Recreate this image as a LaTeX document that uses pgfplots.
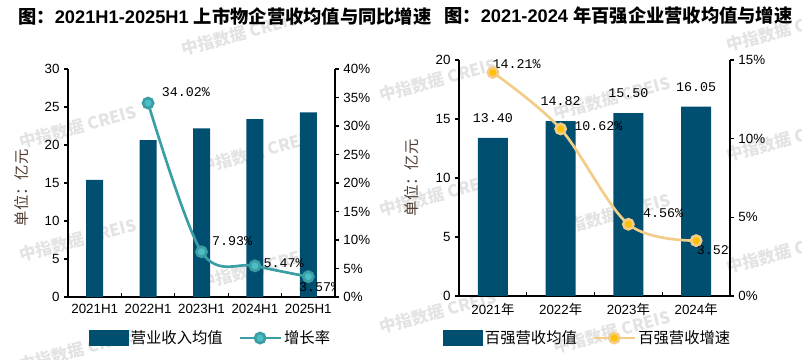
\documentclass[border=0pt]{standalone}
\usepackage{pgfplots}
\pgfplotsset{compat=1.18}
\usepackage{fontspec}
\setmainfont{Liberation Sans}
\newfontfamily\cjk{Noto Sans CJK SC}
\newfontfamily\mono{Liberation Mono}
\definecolor{barc}{RGB}{0,78,112}
\definecolor{tealline}{RGB}{58,158,164}
\definecolor{tealmark}{RGB}{78,190,198}
\definecolor{orline}{RGB}{243,205,135}
\definecolor{ormark}{RGB}{255,192,0}
\definecolor{ylab}{RGB}{80,62,50}
\pgfplotsset{
 linelegend/.style={legend image code/.code={%
   \draw[mark repeat=2,mark phase=2,##1] plot coordinates {(0pt,0pt)(15pt,0pt)(30pt,0pt)};}},
 barlegend/.style={legend image code/.code={%
   \fill[barc] (0pt,-5.5pt) rectangle (29pt,5.5pt);}},
 base/.style={
   scale only axis, anchor=south west,
   /pgf/number format/assume math mode=true,
   tick label style={font=\fontsize{10}{12}\selectfont, black},
   axis line style={line width=1.1pt, black},
   every tick/.style={black, line width=0.9pt},
   major tick length=2.8pt,
   ytick align=outside,
 },
 legst/.style={legend style={draw=none, fill=none, font=\cjk\fontsize{11.5}{13}\selectfont,
   legend columns=2, /tikz/every even column/.append style={column sep=10pt},
   anchor=center}},
}
\newcommand{\tf}{\fontsize{13.7}{15}\selectfont\bfseries}
\begin{document}
\begin{tikzpicture}
\useasboundingbox (0,0) rectangle (601.5pt,270pt);
% watermarks
\foreach \wx/\wy in {78/127, 78/240, 258/152, 258/268, 240/34, 438/80, 438/195, 438/312, 612/98, 612/215, 612/332, 785/30, 785/140, 785/252, 78/350}{
  \node[rotate=15, font=\cjk\bfseries\fontsize{12.5}{14}\selectfont, text=black!11] at ({\wx*0.75pt},{(360-\wy)*0.75pt}) {中指数据 CREIS};
}
% titles
\node[anchor=west, inner sep=0pt] at (13.5pt,258pt) {\tf{\cjk 图：}2021H1-2025H1 {\cjk 上市物企营收均值与同比增速}};
\node[anchor=west, inner sep=0pt] at (333pt,258pt) {\tf{\cjk 图：}2021-2024 {\cjk 年百强企业营收均值与增速}};
% y labels
\node[rotate=90, font=\cjk\fontsize{11.5}{13}\selectfont, text=ylab] at (16.5pt,129pt) {单位：亿元};
\node[rotate=90, font=\cjk\fontsize{11.5}{13}\selectfont, text=ylab] at (309pt,136.5pt) {单位：亿元};
% ---------- left chart ----------
\begin{axis}[base, at={(51pt,47.25pt)}, width=200.25pt, height=171pt,
  xmin=-0.5, xmax=4.5, ymin=0, ymax=30, ytick={0,5,...,30},
  axis x line*=bottom, axis y line*=left,
  xtick={0,...,4}, xticklabels={2021H1,2022H1,2023H1,2024H1,2025H1},
  x tick style={draw=none},
  extra x ticks={0.5,1.5,2.5,3.5}, extra x tick labels={},
  extra x tick style={tick align=inside, x tick style={draw=black, line width=0.9pt}},
  xticklabel style={yshift=-2pt},
]
\addplot[ybar, bar width=12.75pt, fill=barc, draw=none] coordinates {(0,15.4)(1,20.65)(2,22.2)(3,23.4)(4,24.3)};
\end{axis}
\begin{axis}[base, legst, at={(51pt,47.25pt)}, width=200.25pt, height=171pt,
  xmin=-0.5, xmax=4.5, ymin=0, ymax=40, ytick={0,5,...,40},
  axis y line*=right, axis x line=none,
  yticklabel={\pgfmathprintnumber{\tick}\%},
  legend style={at={(0.535,-0.18)}},
]
\addlegendimage{barlegend}
\addlegendentry{营业收入均值}
\addplot[smooth, tension=0.55, color=tealline, line width=2pt, mark=*, mark size=3.8pt,
  mark options={draw=none, fill=tealmark}, linelegend] coordinates {(1,34.02)(2,7.93)(3,5.47)(4,3.57)};
\addlegendentry{增长率}
\begin{scope}[every node/.style={font=\mono\fontsize{10}{12}\selectfont, anchor=west}]
\node[xshift=6.75pt, yshift=8.25pt] at (axis cs:1,34.02) {34.02\%};
\node[xshift=4.5pt, yshift=8.25pt] at (axis cs:2,7.93) {7.93\%};
\node[xshift=3pt, yshift=2.25pt] at (axis cs:3,5.47) {5.47\%};
\node[xshift=-10.5pt, yshift=-7.5pt] at (axis cs:4,3.57) {3.57\%};
\end{scope}
\end{axis}
% ---------- right chart ----------
\begin{axis}[base, at={(344.25pt,48pt)}, width=203.25pt, height=177pt,
  xmin=-0.5, xmax=3.5, ymin=0, ymax=20, ytick={0,5,...,20},
  axis x line*=bottom, axis y line*=left,
  xtick={0,...,3}, xticklabels={2021{\cjk 年},2022{\cjk 年},2023{\cjk 年},2024{\cjk 年}},
  x tick style={draw=none},
  extra x ticks={0.5,1.5,2.5}, extra x tick labels={},
  extra x tick style={tick align=inside, x tick style={draw=black, line width=0.9pt}},
  xticklabel style={yshift=-2pt},
]
\addplot[ybar, bar width=22.5pt, fill=barc, draw=none, point meta=explicit symbolic,
  nodes near coords, every node near coord/.append style={font=\mono\fontsize{10}{12}\selectfont, black, anchor=center, yshift=15pt}]
  coordinates {(0,13.40)[13.40] (1,14.82)[14.82] (2,15.50)[15.50] (3,16.05)[16.05]};
\end{axis}
\begin{axis}[base, legst, at={(344.25pt,48pt)}, width=203.25pt, height=177pt,
  xmin=-0.5, xmax=3.5, ymin=0, ymax=15, ytick={0,5,10,15},
  axis y line*=right, axis x line=none,
  yticklabel={\pgfmathprintnumber{\tick}\%},
  legend style={at={(0.476,-0.178)}},
]
\addlegendimage{barlegend}
\addlegendentry{百强营收均值}
\addplot[smooth, tension=0.55, color=orline, line width=2pt, mark=*, mark size=3.8pt,
  mark options={draw=none, fill=ormark}, linelegend] coordinates {(0,14.21)(1,10.62)(2,4.56)(3,3.52)};
\addlegendentry{百强营收增速}
\begin{scope}[every node/.style={font=\mono\fontsize{10}{12}\selectfont, anchor=west}]
\node[xshift=-3.75pt, yshift=6pt] at (axis cs:0,14.21) {14.21\%};
\node[xshift=6.75pt, yshift=2.25pt] at (axis cs:1,10.62) {10.62\%};
\node[xshift=7.5pt, yshift=8.25pt] at (axis cs:2,4.56) {4.56\%};
\node[xshift=-3pt, yshift=-6.75pt] at (axis cs:3,3.52) {3.52\%};
\end{scope}
\end{axis}
\end{tikzpicture}
\end{document}
